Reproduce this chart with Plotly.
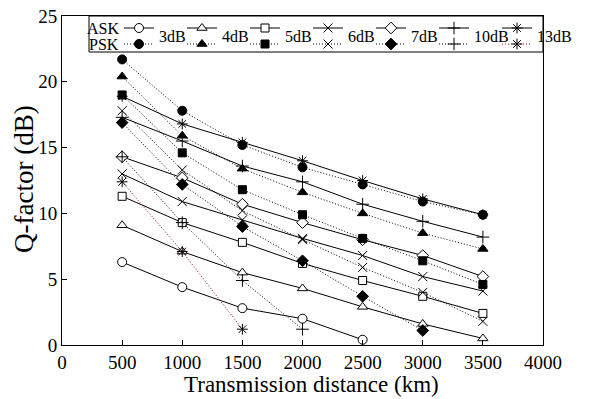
import plotly.graph_objects as go

distance = [500, 1000, 1500, 2000, 2500, 3000, 3500]
labels = ["3dB", "4dB", "5dB", "6dB", "7dB", "10dB", "13dB"]

ask_3 = [6.3, 4.4, 2.8, 2.0, 0.4]
ask_4 = [9.1, 7.1, 5.5, 4.3, 2.9, 1.6, 0.5]
ask_5 = [11.3, 9.3, 7.8, 6.2, 4.9, 3.7, 2.4]
ask_6 = [13.0, 10.9, 9.5, 8.1, 6.8, 5.2, 4.1]
ask_7 = [14.3, 12.7, 10.7, 9.3, 8.0, 6.8, 5.2]
ask_10 = [17.3, 15.5, 13.6, 12.4, 10.7, 9.4, 8.2]
ask_13 = [18.9, 16.8, 15.4, 14.0, 12.5, 11.1, 9.9]

psk_3 = [21.7, 17.8, 15.2, 13.5, 12.2, 10.9, 9.9]
psk_4 = [20.4, 15.9, 13.4, 11.6, 10.0, 8.5, 7.3]
psk_5 = [19.0, 14.6, 11.8, 9.9, 8.1, 6.4, 4.6]
psk_6 = [17.8, 13.3, 10.2, 8.0, 5.9, 4.0, 1.8]
psk_7 = [16.9, 12.2, 9.0, 6.4, 3.7, 1.1]
psk_10 = [14.3, 9.3, 4.9, 1.2]
psk_13 = [12.4, 7.1, 1.2]

ask_series = [ask_3, ask_4, ask_5, ask_6, ask_7, ask_10, ask_13]
psk_series = [psk_3, psk_4, psk_5, psk_6, psk_7, psk_10, psk_13]

symbols = ["circle", "triangle-up", "square", "x-thin", "diamond", "cross-thin", "asterisk"]
thin = {"x-thin", "cross-thin", "asterisk"}

FONT = "Liberation Serif"
BLACK = "black"
RED = "#a01010"

L, R, T, B = 62, 52, 16, 54
W, H = 595, 399
PW, PH = W - L - R, H - T - B


def px_x(p):
    return (p - L) / PW


def px_y(p):
    return 1 - (p - T) / PH


def marker_for(sym, filled):
    if sym in thin:
        return dict(symbol=sym, size=9, color=BLACK, line=dict(color=BLACK, width=1))
    size = 8 if sym == "square" else 9
    return dict(symbol=sym, size=size, color=BLACK if filled else "white",
                line=dict(color=BLACK, width=1))


def line_for(kind, i):
    if kind == "ASK":
        return dict(color=BLACK, width=1)
    return dict(color=RED if labels[i] == "13dB" else BLACK, width=1, dash="1px,2px")


fig = go.Figure()

for kind, group in (("ASK", ask_series), ("PSK", psk_series)):
    for i, ys in enumerate(group):
        fig.add_trace(go.Scatter(
            x=distance[:len(ys)], y=ys, mode="lines+markers",
            name=f"{kind} {labels[i]}", showlegend=False,
            line=line_for(kind, i), marker=marker_for(symbols[i], kind == "PSK")))

# ---- custom two-row key, drawn on a pixel-unit overlay axis ----
first_center = 139
step = 63
half = 15
rows = {"ASK": 28, "PSK": 44}
for kind, row in rows.items():
    for i in range(len(labels)):
        c = first_center + i * step
        fig.add_trace(go.Scatter(
            x=[c - half, c + half], y=[row, row], mode="lines", xaxis="x2", yaxis="y2",
            line=line_for(kind, i), showlegend=False, hoverinfo="skip"))
        fig.add_trace(go.Scatter(
            x=[c], y=[row], mode="markers", xaxis="x2", yaxis="y2",
            marker=marker_for(symbols[i], kind == "PSK"), showlegend=False,
            hoverinfo="skip"))

annotations = []
for kind, row in rows.items():
    annotations.append(dict(text=kind, x=121, y=row, xref="x2", yref="y2",
                            xanchor="right", yanchor="middle", showarrow=False,
                            font=dict(family=FONT, size=16, color=BLACK)))
for i, lab in enumerate(labels):
    annotations.append(dict(text=lab, x=first_center + half + 3 + i * step,
                            y=(rows["ASK"] + rows["PSK"]) / 2, xref="x2", yref="y2",
                            xanchor="left", yanchor="middle", showarrow=False,
                            font=dict(family=FONT, size=16, color=BLACK)))

annotations.append(dict(text="Transmission distance (km)", x=px_x(311), y=px_y(384),
                        xref="paper", yref="paper",
                        xanchor="center", yanchor="middle", showarrow=False,
                        font=dict(family=FONT, size=23, color=BLACK)))
annotations.append(dict(text="Q-factor (dB)", x=px_x(24), y=px_y(179),
                        xref="paper", yref="paper",
                        xanchor="center", yanchor="middle", showarrow=False, textangle=-90,
                        font=dict(family=FONT, size=27, color=BLACK)))

fig.update_layout(
    width=W, height=H,
    margin=dict(l=L, r=R, t=T, b=B, autoexpand=False),
    paper_bgcolor="white", plot_bgcolor="white",
    font=dict(family=FONT, color=BLACK, size=19),
    showlegend=False,
    annotations=annotations,
    shapes=[dict(type="rect", xref="x2", yref="y2", x0=89, x1=W - R, y0=T, y1=52,
                 line=dict(color=BLACK, width=1))],
    xaxis=dict(range=[0, 4000], dtick=500, tick0=0, showgrid=False, zeroline=False,
               showline=True, linecolor=BLACK, linewidth=1, mirror=True,
               ticks="inside", ticklen=5, tickcolor=BLACK,
               tickfont=dict(family=FONT, size=19, color=BLACK)),
    yaxis=dict(range=[0, 25], dtick=5, tick0=0, showgrid=False, zeroline=False,
               showline=True, linecolor=BLACK, linewidth=1, mirror=True,
               ticks="inside", ticklen=5, tickcolor=BLACK,
               tickfont=dict(family=FONT, size=19, color=BLACK)),
    xaxis2=dict(overlaying="x", range=[L, W - R], visible=False, fixedrange=True),
    yaxis2=dict(overlaying="y", range=[H - B, T], visible=False, fixedrange=True),
)

fig.write_html(
    "out.html",
    config={"displayModeBar": False},
    post_script="document.body.style.margin='0';document.body.style.overflow='hidden';",
)
